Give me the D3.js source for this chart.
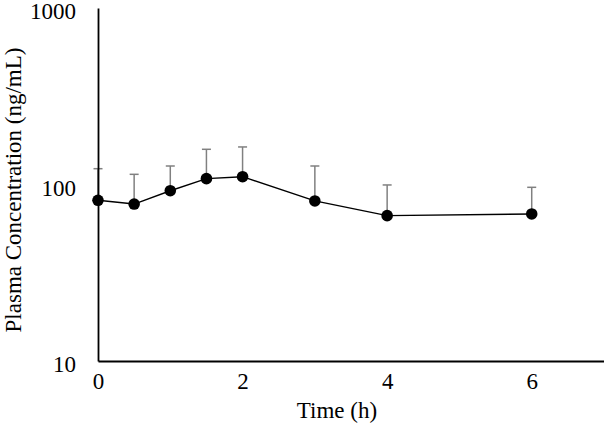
<!DOCTYPE html>
<html>
<head>
<meta charset="utf-8">
<script src="https://cdn.jsdelivr.net/npm/d3@7"></script>
<style>
  html, body { margin: 0; padding: 0; background: #fff; }
  svg { display: block; }
  text { font-family: "Liberation Serif", "Times New Roman", serif; fill: #000; }
</style>
</head>
<body>
<svg id="chart" width="604" height="425"></svg>
<script>
// Data
const times = [0, 0.5, 1, 1.5, 2, 3, 4, 6];
const meanConc = [81.4, 77.5, 92.2, 107.9, 110.7, 80.7, 66.6, 68.1];
const upperSD = [41.5, 36.7, 35.1, 50.4, 52.5, 46.6, 32.8, 28.3];
const xTicks = [0, 2, 4, 6];
const yTicks = [10, 100, 1000];

const FONT = '"Liberation Serif", "Times New Roman", serif';
const svg = d3.select("#chart");
const x = d3.scaleLinear().domain([0, 7]).range([98, 604]);
const y = d3.scaleLog().domain([10, 1000]).range([361, 8]);

const data = times.map((t, i) => ({ t, m: meanConc[i], sd: upperSD[i] }));

// Error bars (upper only)
const eb = svg.append("g");
eb.selectAll("line.v").data(data).join("line")
  .attr("x1", d => x(d.t)).attr("x2", d => x(d.t))
  .attr("y1", d => y(d.m)).attr("y2", d => y(d.m + d.sd))
  .attr("stroke", "#808080").attr("stroke-width", 1.5);
eb.selectAll("line.c").data(data).join("line")
  .attr("x1", d => x(d.t) - 4.5).attr("x2", d => x(d.t) + 4.5)
  .attr("y1", d => y(d.m + d.sd)).attr("y2", d => y(d.m + d.sd))
  .attr("stroke", "#808080").attr("stroke-width", 1.5);

// Axes (no ticks)
const xAxis = d3.axisBottom(x).tickValues(xTicks).tickSize(0).tickPadding(12).tickFormat(d3.format("d"));
const yAxis = d3.axisLeft(y).tickValues(yTicks).tickSize(0).tickPadding(22).tickFormat(d3.format("d"));
const gx = svg.append("g").attr("transform", `translate(0,${y(10)})`).call(xAxis);
const gy = svg.append("g").attr("transform", `translate(${x(0)},0)`).call(yAxis);
[gx, gy].forEach(g => {
  g.attr("font-family", FONT).attr("font-size", 23);
  g.select(".domain").attr("stroke", "#000").attr("stroke-width", 1.8);
  g.selectAll("text").attr("font-family", FONT).attr("font-size", 23).attr("fill", "#000");
});
gx.selectAll(".tick text").attr("dy", "0.71em");
gy.selectAll(".tick text").attr("dy", "0.47em");

// Line
svg.append("path").datum(data)
  .attr("fill", "none").attr("stroke", "#000").attr("stroke-width", 1.4)
  .attr("d", d3.line().x(d => x(d.t)).y(d => y(d.m)));

// Points
svg.append("g").selectAll("circle").data(data).join("circle")
  .attr("cx", d => x(d.t)).attr("cy", d => y(d.m)).attr("r", 5.8).attr("fill", "#000");

// Titles
svg.append("text").attr("x", 337).attr("y", 418).attr("text-anchor", "middle")
  .attr("font-family", FONT).attr("font-size", 23).text("Time (h)");
svg.append("text").attr("transform", "translate(21,190) rotate(-90)").attr("text-anchor", "middle")
  .attr("font-family", FONT).attr("font-size", 23).text("Plasma Concentration (ng/mL)");
</script>
</body>
</html>
